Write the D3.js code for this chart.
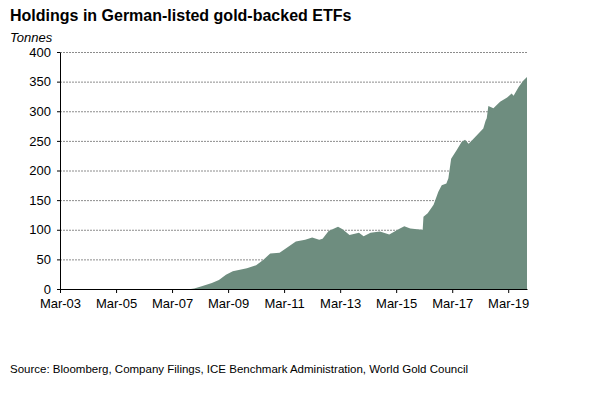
<!DOCTYPE html>
<html>
<head>
<meta charset="utf-8">
<script src="https://cdn.jsdelivr.net/npm/d3@7"></script>
<style>
  body { margin: 0; background: #fff; }
  text { font-family: "Liberation Sans", Arial, sans-serif; fill: #000; }
</style>
</head>
<body>
<div id="chart"></div>
<script>
// holdings, tonnes
var dates = [
  "2003-03-01", "2007-11-01", "2007-12-15", "2008-04-01", "2008-08-01", "2008-11-01",
  "2009-02-01", "2009-05-01", "2009-11-01", "2010-03-01", "2010-06-01", "2010-09-01",
  "2011-01-01", "2011-04-01", "2011-08-01", "2011-12-01", "2012-03-01", "2012-06-01",
  "2012-07-15", "2012-10-01", "2013-02-01", "2013-04-01", "2013-07-01", "2013-11-01",
  "2014-01-01", "2014-04-01", "2014-08-01", "2014-12-01", "2015-04-01", "2015-06-15",
  "2015-09-01", "2015-12-01", "2016-02-10", "2016-02-20", "2016-04-15", "2016-07-01",
  "2016-09-01", "2016-10-15", "2016-12-15", "2017-01-10", "2017-02-15", "2017-05-01",
  "2017-07-01", "2017-08-15", "2017-10-01", "2017-11-15", "2018-02-10", "2018-04-10",
  "2018-05-10", "2018-05-25", "2018-06-15", "2018-08-20", "2018-11-15", "2019-02-15",
  "2019-04-15", "2019-05-10", "2019-07-15", "2019-09-15", "2019-11-01"
];
var tonnes = [
  0, 0, 1, 5, 10, 15,
  24, 30, 35, 40, 49, 60,
  61, 69, 80, 83, 87, 83,
  85, 98, 105, 101, 91, 95,
  89, 95, 97, 92, 101, 106,
  102, 101, 100, 122, 128, 142,
  164, 175, 178, 187, 220, 235,
  248, 252, 245, 251, 263, 271,
  284, 288, 309, 305, 316, 323,
  330, 326, 341, 352, 358
];
var yTicks = [0, 50, 100, 150, 200, 250, 300, 350, 400];
var xTickYears = [2003, 2005, 2007, 2009, 2011, 2013, 2015, 2017, 2019];

var parse = d3.timeParse("%Y-%m-%d");
var data = dates.map(function(d, i) { return { date: parse(d), value: tonnes[i] }; });

var width = 602, height = 393;
var margin = { top: 52, right: 75, bottom: 104, left: 60 };
var plotW = width - margin.left - margin.right;
var plotH = height - margin.top - margin.bottom;

var svg = d3.select("#chart").append("svg")
  .attr("width", width).attr("height", height);

svg.append("text")
  .attr("x", 10).attr("y", 21)
  .style("font-size", "16px").style("font-weight", "bold")
  .text("Holdings in German-listed gold-backed ETFs");

svg.append("text")
  .attr("x", 10).attr("y", 42)
  .style("font-size", "13px").style("font-style", "italic")
  .text("Tonnes");

var g = svg.append("g")
  .attr("transform", "translate(" + margin.left + "," + margin.top + ")");

var xScale = d3.scaleTime()
  .domain([parse("2003-03-01"), parse("2019-11-01")])
  .range([0, plotW]);
var yScale = d3.scaleLinear().domain([0, 400]).range([plotH, 0]);

// dotted gridlines
g.append("g").selectAll("line")
  .data(yTicks.filter(function(t) { return t > 0; }))
  .enter().append("line")
  .attr("x1", 0).attr("x2", plotW)
  .attr("y1", function(d) { return yScale(d) + 0.5; })
  .attr("y2", function(d) { return yScale(d) + 0.5; })
  .attr("stroke", "#8c8c8c").attr("stroke-width", 1)
  .attr("stroke-dasharray", "2,1");

var area = d3.area()
  .x(function(d) { return xScale(d.date); })
  .y0(yScale(0))
  .y1(function(d) { return yScale(d.value); });

g.append("path").datum(data)
  .attr("d", area)
  .attr("fill", "#6e8d7f");

var xAxisCall = d3.axisBottom(xScale)
  .tickValues(xTickYears.map(function(y) { return new Date(y, 2, 1); }))
  .tickFormat(d3.timeFormat("%b-%y"))
  .tickSizeInner(4).tickSizeOuter(0);
var yAxisCall = d3.axisLeft(yScale)
  .tickValues(yTicks).tickSizeInner(3).tickSizeOuter(0).tickPadding(6);

var xa = g.append("g").attr("transform", "translate(0," + plotH + ")").call(xAxisCall);
var ya = g.append("g").call(yAxisCall);

[xa, ya].forEach(function(a) {
  a.select(".domain").attr("stroke", "#000");
  a.selectAll(".tick line").attr("stroke", "#000");
  a.selectAll("text").style("font-size", "13px")
    .style("font-family", "'Liberation Sans', Arial, sans-serif").attr("fill", "#000");
});
xa.selectAll("text").attr("dy", "0.95em");

svg.append("text")
  .attr("x", 10).attr("y", 373)
  .style("font-size", "11.5px")
  .text("Source: Bloomberg, Company Filings, ICE Benchmark Administration, World Gold Council");
</script>
</body>
</html>
